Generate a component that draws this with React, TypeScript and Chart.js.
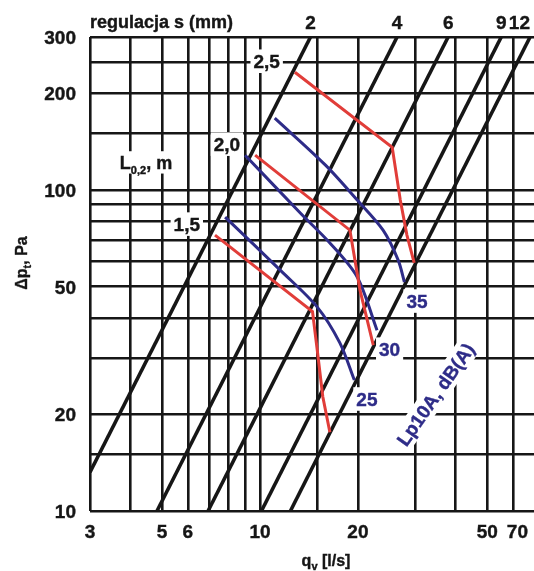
import React, { useEffect, useRef } from 'react';
import { Chart, registerables } from 'chart.js';

Chart.register(...registerables);

const FONT = '"Liberation Sans", Arial, Helvetica, sans-serif';
const INK = '#161616';
const RED = '#e13d39';
const NAVY = '#2e2c88';

// grid / axis
const xGridValues = [3, 4, 5, 6, 7, 8, 9, 10, 15, 20, 30, 40, 50, 60];
const yGridValues = [10, 15, 20, 30, 40, 50, 60, 70, 80, 90, 100, 150, 200, 250, 300];
const xTickLabels = [3, 5, 6, 10, 20, 50, 70];
const yTickLabels = [10, 20, 50, 100, 200, 300];

// regulation lines, s (mm)
const sSettings = ['2', '4', '6', '9', '12'];
const sStartQ = [3, 4.82, 6.92, 10.1, 12.4];
const sStartDp = [13.2, 10, 10, 10, 10];
const sEndQ = [14.3, 26.4, 37.9, 55.2, 67.7];
const sEndDp = [300, 300, 300, 300, 300];

// throw L0,2 (m) - red
const throwNames = ['1,5', '2,0', '2,5'];
const throw15Q = [7.27, 14.5, 15.0, 15.6, 16.4];
const throw15Dp = [72.4, 41.8, 31.7, 22.7, 17.6];
const throw20Q = [9.66, 18.9, 20.3, 22.3];
const throw20Dp = [128.5, 75.0, 48.8, 32.9];
const throw25Q = [12.8, 25.5, 27.0, 28.3, 29.8];
const throw25Dp = [233, 136, 93.1, 72.4, 59.3];

// sound level Lp10A dB(A) - blue
const soundNames = ['25', '30', '35'];
const sound25Q = [7.81, 11.6, 15.0, 17.6, 19.5];
const sound25Dp = [82.4, 56.0, 43.2, 33.4, 25.6];
const sound30Q = [9.0, 13.3, 16.4, 19.9, 22.9];
const sound30Dp = [128.5, 84.8, 68.4, 53.6, 36.6];
const sound35Q = [11.1, 15.9, 19.9, 23.9, 26.6, 27.8];
const sound35Dp = [167.6, 119.6, 93.1, 75.0, 60.5, 51.7];

// free label anchors (data units)
const throwTitleAt = { q: 4.46, dp: 122 };
const soundTitleAt = { q: 34.6, dp: 23.1 };

const pts = (qs: number[], dps: number[]) => qs.map((q, i) => ({ x: q, y: dps[i] }));

const throwSeries = [pts(throw15Q, throw15Dp), pts(throw20Q, throw20Dp), pts(throw25Q, throw25Dp)];
const soundSeries = [pts(sound25Q, sound25Dp), pts(sound30Q, sound30Dp), pts(sound35Q, sound35Dp)];
const sSeries = sSettings.map((_, i) => [
  { x: sStartQ[i], y: sStartDp[i] },
  { x: sEndQ[i], y: sEndDp[i] },
]);

type Seg = { t: string; size: number; dy?: number };

function segsWidth(ctx: CanvasRenderingContext2D, segs: Seg[], weight: string) {
  let w = 0;
  for (const s of segs) {
    ctx.font = `${weight} ${s.size}px ${FONT}`;
    w += ctx.measureText(s.t).width;
  }
  return w;
}

function drawSegs(
  ctx: CanvasRenderingContext2D,
  segs: Seg[],
  x: number,
  y: number,
  align: 'left' | 'center' | 'right',
  color: string,
  weight: string,
  bg = false,
) {
  const w = segsWidth(ctx, segs, weight);
  const size = Math.max(...segs.map((s) => s.size));
  let x0 = align === 'left' ? x : align === 'center' ? x - w / 2 : x - w;
  if (bg) {
    ctx.fillStyle = '#ffffff';
    ctx.fillRect(x0 - 3, y - size * 0.62, w + 6, size * 1.24);
  }
  ctx.fillStyle = color;
  ctx.strokeStyle = color;
  ctx.lineWidth = 0.4;
  ctx.textAlign = 'left';
  ctx.textBaseline = 'alphabetic';
  for (const s of segs) {
    ctx.font = `${weight} ${s.size}px ${FONT}`;
    const base = y + size * 0.36 + (s.dy || 0);
    ctx.fillText(s.t, x0, base);
    ctx.strokeText(s.t, x0, base);
    x0 += ctx.measureText(s.t).width;
  }
}

const textPlugin = {
  id: 'chartTexts',
  afterDraw(chart: any) {
    const ctx: CanvasRenderingContext2D = chart.ctx;
    const xs = chart.scales.x;
    const ys = chart.scales.y;
    const area = chart.chartArea;
    ctx.save();

    // y tick labels
    yTickLabels.forEach((v) => {
      drawSegs(ctx, [{ t: String(v), size: 19 }], area.left - 14, ys.getPixelForValue(v), 'right', INK, 'bold');
    });
    // x tick labels
    xTickLabels.forEach((v) => {
      const t = String(v);
      ctx.font = `bold 19px ${FONT}`;
      const w = ctx.measureText(t).width;
      let px = xs.getPixelForValue(v);
      px = Math.min(px, area.right - w / 2 - 6);
      drawSegs(ctx, [{ t, size: 19 }], px, area.bottom + 20, 'center', INK, 'bold');
    });

    // top title + s labels
    drawSegs(ctx, [{ t: 'regulacja s (mm)', size: 18 }], area.left, area.top - 15, 'left', INK, 'bold');
    sSettings.forEach((t, i) => {
      ctx.font = `bold 19px ${FONT}`;
      const w = ctx.measureText(t).width;
      let px = xs.getPixelForValue(sEndQ[i]);
      px = Math.min(px, area.right - w / 2 - 4);
      drawSegs(ctx, [{ t, size: 19 }], px, area.top - 15, 'center', INK, 'bold');
    });

    // axis titles
    ctx.save();
    ctx.translate(21, 263);
    ctx.rotate(-Math.PI / 2);
    drawSegs(ctx, [{ t: 'Δp', size: 16 }, { t: 't', size: 11, dy: 4 }, { t: ', Pa', size: 16 }], 0, 0, 'center', INK, 'bold');
    ctx.restore();
    drawSegs(ctx, [{ t: 'q', size: 16 }, { t: 'v', size: 11, dy: 4 }, { t: ' [l/s]', size: 16 }], 326, 560, 'center', INK, 'bold');

    // throw labels (red series start)
    throwNames.forEach((t, i) => {
      const p0 = throwSeries[i][0];
      const px = xs.getPixelForValue(p0.x);
      const py = ys.getPixelForValue(p0.y);
      drawSegs(ctx, [{ t, size: 19 }], px - 15, py - 11, 'right', INK, 'bold', true);
    });
    drawSegs(
      ctx,
      [{ t: 'L', size: 18 }, { t: '0,2', size: 11, dy: 5 }, { t: ', m', size: 18 }],
      xs.getPixelForValue(throwTitleAt.q),
      ys.getPixelForValue(throwTitleAt.dp),
      'center',
      INK,
      'bold',
      true,
    );

    // sound labels (blue series end)
    soundNames.forEach((t, i) => {
      const s = soundSeries[i];
      const p1 = s[s.length - 1];
      const px = xs.getPixelForValue(p1.x);
      const py = ys.getPixelForValue(p1.y);
      drawSegs(ctx, [{ t, size: 19 }], px + 2, py + 19, 'left', NAVY, 'bold', true);
    });
    ctx.save();
    ctx.translate(xs.getPixelForValue(soundTitleAt.q), ys.getPixelForValue(soundTitleAt.dp));
    ctx.rotate((-55 * Math.PI) / 180);
    drawSegs(ctx, [{ t: 'Lp10A, dB(A)', size: 19 }], 0, 0, 'center', NAVY, 'bold', true);
    ctx.restore();

    ctx.restore();
  },
};

export default function App() {
  const ref = useRef<HTMLCanvasElement>(null);

  useEffect(() => {
    const canvas = ref.current;
    if (!canvas) return;
    const datasets: any[] = [];
    throwSeries.forEach((data, i) =>
      datasets.push({ label: 'L0,2 ' + throwNames[i], data, borderColor: RED, borderWidth: 3, tension: 0, pointRadius: 0 }),
    );
    soundSeries.forEach((data, i) =>
      datasets.push({
        label: 'Lp10A ' + soundNames[i],
        data,
        borderColor: NAVY,
        borderWidth: 3,
        tension: 0.3,
        pointRadius: 0,
      }),
    );
    sSeries.forEach((data, i) =>
      datasets.push({ label: 's ' + sSettings[i], data, borderColor: INK, borderWidth: 3.6, tension: 0, pointRadius: 0 }),
    );

    const chart = new Chart(canvas, {
      type: 'line',
      data: { datasets },
      options: {
        animation: false,
        responsive: false,
        maintainAspectRatio: false,
        layout: { padding: { left: 90, top: 37, right: 0, bottom: 60 } },
        plugins: { legend: { display: false }, tooltip: { enabled: false } },
        scales: {
          x: {
            type: 'logarithmic',
            min: 3,
            max: 69.6,
            border: { display: false },
            grid: { color: INK, lineWidth: 2.6, drawTicks: false },
            ticks: { display: false },
            afterBuildTicks: (s: any) => {
              s.ticks = xGridValues.map((v) => ({ value: v }));
            },
          },
          y: {
            type: 'logarithmic',
            min: 10,
            max: 300,
            border: { display: false },
            grid: { color: INK, lineWidth: 2.6, drawTicks: false },
            ticks: { display: false },
            afterBuildTicks: (s: any) => {
              s.ticks = yGridValues.map((v) => ({ value: v }));
            },
          },
        },
      } as any,
      plugins: [textPlugin],
    });
    return () => chart.destroy();
  }, []);

  return (
    <div style={{ position: 'absolute', left: 0, top: 0, width: 534, height: 571, background: '#ffffff' }}>
      <canvas ref={ref} width={534} height={571} style={{ display: 'block', width: 534, height: 571 }} />
    </div>
  );
}
